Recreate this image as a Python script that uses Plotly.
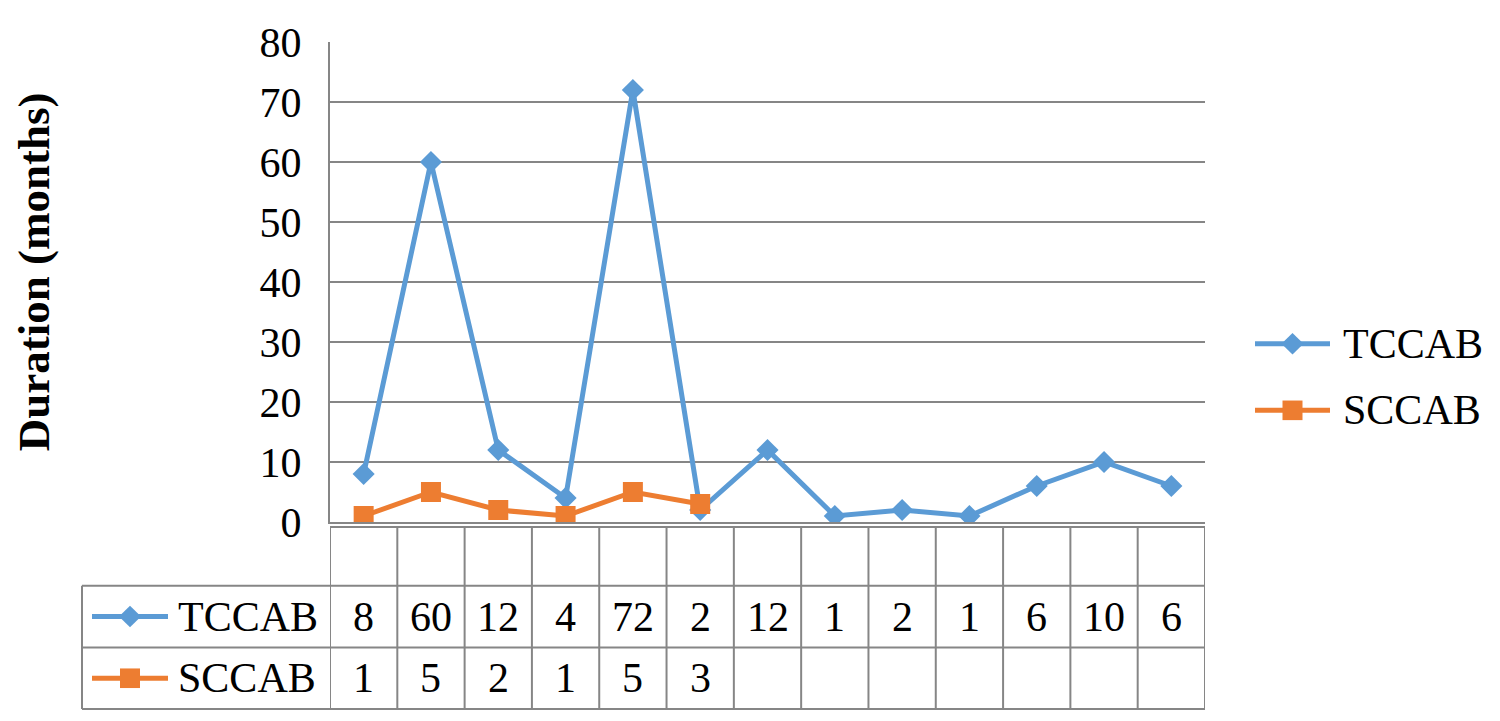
import plotly.graph_objects as go

# ---- data ----
cases = list(range(1, 14))
tccab = [8, 60, 12, 4, 72, 2, 12, 1, 2, 1, 6, 10, 6]
sccab = [1, 5, 2, 1, 5, 3, None, None, None, None, None, None, None]
series_names = ["TCCAB", "SCCAB"]
y_ticks = [0, 10, 20, 30, 40, 50, 60, 70, 80]

BLUE = "#5B9BD5"
ORANGE = "#ED7D31"
GRID = "#868686"
FONT = "Liberation Serif"
FS = 42
LW = 5

OFF = 8  # page body margin
W, H = 1500 - OFF, 721 - OFF
# target positions in screen pixels
L, R, T, B = 330, 1205, 32, 522
PW, PH = R - L, B - T


def px(xp):
    return (xp - L) / PW


def py(yp):
    return (B - yp) / PH


fig = go.Figure()
fig.add_trace(go.Scatter(
    x=cases, y=tccab, mode="lines+markers", name=series_names[0],
    line=dict(color=BLUE, width=LW),
    marker=dict(symbol="diamond", size=17, color=BLUE),
    showlegend=False,
))
fig.add_trace(go.Scatter(
    x=cases, y=sccab, mode="lines+markers", name=series_names[1],
    line=dict(color=ORANGE, width=LW),
    marker=dict(symbol="square", size=20, color=ORANGE),
    showlegend=False,
))

shapes = []
annotations = []

# table grid
row_top, row1, row2, row3 = 527, 587, 650, 713
lk = 82
for k in range(len(cases) + 1):
    xb = cases[0] - 0.5 + k
    shapes.append(dict(type="line", xref="x", yref="paper", x0=xb, x1=xb,
                       y0=py(row_top), y1=py(row3), line=dict(color=GRID, width=2)))
shapes.append(dict(type="line", xref="paper", yref="paper", x0=px(L), x1=px(R),
                   y0=py(row_top), y1=py(row_top), line=dict(color=GRID, width=2)))
for yy in (row1, row2, row3):
    shapes.append(dict(type="line", xref="paper", yref="paper", x0=px(lk), x1=px(R),
                       y0=py(yy), y1=py(yy), line=dict(color=GRID, width=2)))
shapes.append(dict(type="line", xref="paper", yref="paper", x0=px(lk), x1=px(lk),
                   y0=py(row1), y1=py(row3), line=dict(color=GRID, width=2)))


def key(xl, xr, yc, color, symbol, label, xt):
    shapes.append(dict(type="line", xref="paper", yref="paper", x0=px(xl), x1=px(xr),
                       y0=py(yc), y1=py(yc), line=dict(color=color, width=LW)))
    xm = (xl + xr) / 2
    if symbol == "diamond":
        d = 11
        path = (f"M{px(xm - d)},{py(yc)} L{px(xm)},{py(yc - d)} "
                f"L{px(xm + d)},{py(yc)} L{px(xm)},{py(yc + d)} Z")
        shapes.append(dict(type="path", xref="paper", yref="paper", path=path,
                           fillcolor=color, line=dict(color=color, width=0)))
    else:
        d = 10
        shapes.append(dict(type="rect", xref="paper", yref="paper",
                           x0=px(xm - d), x1=px(xm + d), y0=py(yc - d), y1=py(yc + d),
                           fillcolor=color, line=dict(color=color, width=0)))
    annotations.append(dict(text=label, xref="paper", yref="paper", x=px(xt), y=py(yc),
                            xanchor="left", yanchor="middle", showarrow=False,
                            font=dict(family=FONT, size=FS, color="black")))


rows = [(tccab, (row1 + row2) / 2, BLUE, "diamond"),
        (sccab, (row2 + row3) / 2, ORANGE, "square")]
for (vals, yc, col, sym), name in zip(rows, series_names):
    key(92, 168, yc, col, sym, name, 176)
    for c, v in zip(cases, vals):
        if v is not None:
            annotations.append(dict(text=str(v), xref="x", yref="paper", x=c, y=py(yc),
                                    xanchor="center", yanchor="middle", showarrow=False,
                                    font=dict(family=FONT, size=FS, color="black")))

# right legend
key(1255, 1330, 340, BLUE, "diamond", series_names[0], 1341)
key(1255, 1330, 408, ORANGE, "square", series_names[1], 1341)

# y title
annotations.append(dict(text="<b>Duration (months)</b>", xref="paper", yref="paper",
                        x=px(34), y=py(267), textangle=-90, xanchor="center",
                        yanchor="middle", showarrow=False,
                        font=dict(family=FONT, size=45, color="black")))

fig.update_layout(
    width=W, height=H,
    margin=dict(l=L - OFF, r=1500 - R, t=T - OFF, b=721 - B, pad=0),
    plot_bgcolor="white", paper_bgcolor="white",
    shapes=shapes, annotations=annotations,
    xaxis=dict(range=[cases[0] - 0.5, cases[-1] + 0.5], showgrid=False,
               showticklabels=False, zeroline=False, showline=True,
               linecolor=GRID, linewidth=2, ticks=""),
    yaxis=dict(range=[0, 80], tickvals=y_ticks, showgrid=True, gridcolor=GRID,
               gridwidth=2, zeroline=False, showline=True, linecolor=GRID,
               linewidth=2, ticks="", ticklabelstandoff=18,
               tickfont=dict(family=FONT, size=FS, color="black")),
    showlegend=False,
)

fig.write_html("out.html")
